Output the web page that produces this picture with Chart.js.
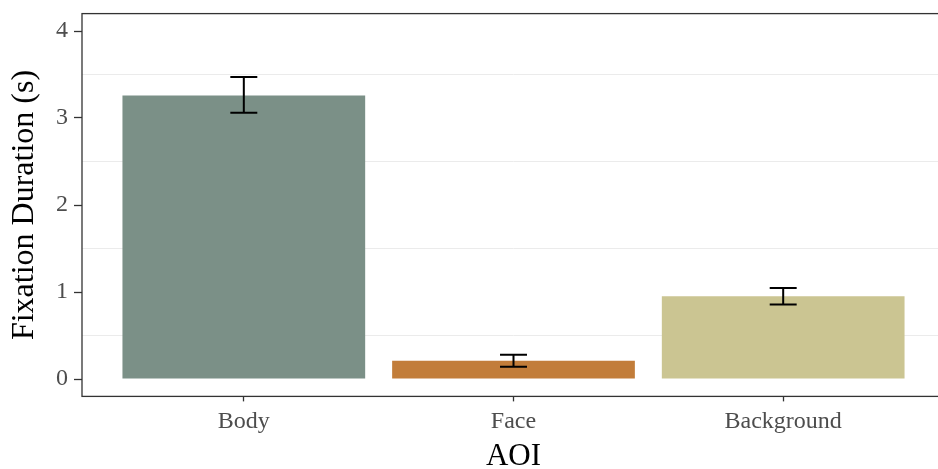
<!DOCTYPE html>
<html>
<head>
<meta charset="utf-8">
<script src="https://cdn.jsdelivr.net/npm/chart.js@4/dist/chart.umd.min.js"></script>
<style>
  html, body { margin: 0; padding: 0; background: #ffffff; overflow: hidden; }
  #wrap { width: 938px; height: 469px; overflow: hidden; position: relative; }
  canvas { display: block; }
</style>
</head>
<body>
<div id="wrap"><canvas id="chart" width="948" height="469"></canvas></div>
<script>
// Mean fixation duration per area of interest, with error-bar limits (seconds)
const categories = ['Body', 'Face', 'Background'];
const means      = [3.26, 0.21, 0.95];
const lowerLimit = [3.06, 0.14, 0.855];
const upperLimit = [3.47, 0.28, 1.045];
const barColors  = ['#7b9087', '#c27d3a', '#cbc592'];

// y axis: labelled ticks and the minor grid lines between them
const yTickValues  = [0, 1, 2, 3, 4];
const yMinorValues = [0.5, 1.5, 2.5, 3.5];

const SERIF = '"Liberation Serif", "Times New Roman", serif';

// Draws a vertical error bar with caps over every bar
const errorBars = {
  id: 'errorBars',
  afterDatasetsDraw(chart) {
    const { ctx, scales: { x, y } } = chart;
    ctx.save();
    ctx.strokeStyle = '#000000';
    ctx.lineWidth = 2;
    ctx.lineCap = 'butt';
    categories.forEach((c, i) => {
      const cx = x.getPixelForValue(i + 1);
      const half = (x.getPixelForValue(i + 1.05) - x.getPixelForValue(i + 0.95)) / 2;
      const yl = y.getPixelForValue(lowerLimit[i]);
      const yu = y.getPixelForValue(upperLimit[i]);
      ctx.beginPath();
      ctx.moveTo(cx, yu); ctx.lineTo(cx, yl);
      ctx.moveTo(cx - half, yu); ctx.lineTo(cx + half, yu);
      ctx.moveTo(cx - half, yl); ctx.lineTo(cx + half, yl);
      ctx.stroke();
    });
    ctx.restore();
  }
};

// Frame around the plotting panel
const panelBorder = {
  id: 'panelBorder',
  afterDraw(chart) {
    const { ctx, chartArea: a } = chart;
    ctx.save();
    ctx.strokeStyle = '#333333';
    ctx.lineWidth = 1.3;
    ctx.strokeRect(a.left, a.top, a.right - a.left, a.bottom - a.top);
    ctx.restore();
  }
};

const noEdgePadding = (axis) => {
  axis.paddingTop = 0; axis.paddingBottom = 0;
  axis.paddingLeft = 0; axis.paddingRight = 0;
};

new Chart(document.getElementById('chart'), {
  type: 'bar',
  data: {
    datasets: [{
      data: categories.map((c, i) => ({ x: i + 1, y: means[i] })),
      backgroundColor: barColors,
      borderWidth: 0,
      categoryPercentage: 1.0,
      barPercentage: 0.9
    }]
  },
  options: {
    responsive: false,
    animation: false,
    devicePixelRatio: 1,
    layout: { padding: { top: 13.6, right: 3, left: 0, bottom: 0 } },
    plugins: { legend: { display: false }, tooltip: { enabled: false } },
    scales: {
      x: {
        type: 'linear',
        min: 0.4,
        max: 3.6,
        offset: false,
        afterBuildTicks(axis) { axis.ticks = categories.map((c, i) => ({ value: i + 1 })); },
        afterFit(axis) { axis.height = 72.6; noEdgePadding(axis); },
        grid: {
          offset: false,
          drawOnChartArea: false,
          drawTicks: true,
          tickLength: 5,
          tickWidth: 1.3,
          tickColor: '#333333'
        },
        border: { display: false },
        ticks: {
          padding: 6,
          color: '#4d4d4d',
          font: { family: SERIF, size: 24 },
          maxRotation: 0,
          callback: (v) => categories[Math.round(v) - 1]
        },
        title: {
          display: true,
          text: 'AOI',
          color: '#000000',
          font: { family: SERIF, size: 31, lineHeight: 0.8 },
          padding: { top: 0, bottom: 0 }
        }
      },
      y: {
        min: -0.2,
        max: 4.2,
        afterBuildTicks(axis) {
          axis.ticks = yTickValues.concat(yMinorValues)
            .sort((a, b) => a - b)
            .map(v => ({ value: v }));
        },
        afterFit(axis) { axis.width = 82; noEdgePadding(axis); },
        grid: {
          drawTicks: true,
          tickLength: 8,
          lineWidth: 1,
          tickWidth: 1.3,
          color: (ctx) => yMinorValues.includes(ctx.tick && ctx.tick.value) ? '#ebebeb' : 'rgba(0,0,0,0)',
          tickColor: (ctx) => yTickValues.includes(ctx.tick && ctx.tick.value) ? '#333333' : 'rgba(0,0,0,0)'
        },
        border: { display: false },
        ticks: {
          padding: 6,
          color: '#4d4d4d',
          font: { family: SERIF, size: 24 },
          callback: (v) => yTickValues.includes(v) ? String(v) : ''
        },
        title: {
          display: true,
          text: 'Fixation Duration (s)',
          color: '#000000',
          font: { family: SERIF, size: 32, lineHeight: 1 },
          padding: { top: 9, bottom: 0 }
        }
      }
    }
  },
  plugins: [errorBars, panelBorder]
});
</script>
</body>
</html>
